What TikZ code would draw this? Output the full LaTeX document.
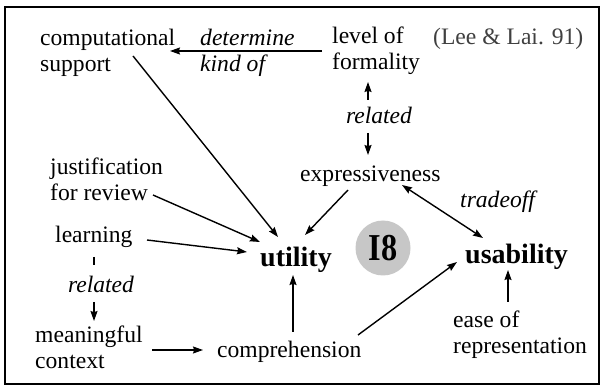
\documentclass[tikz,border=0pt]{standalone}
\usepackage{fontspec}
\setmainfont{Liberation Serif}
\usetikzlibrary{arrows.meta}
\tikzset{
  txt/.style={font=\fontsize{23.6}{26}\selectfont, inner sep=0pt, anchor=base west, align=left},
  rel/.style={txt, font=\fontsize{23.6}{26}\selectfont\itshape},
  key/.style={txt, font=\fontsize{28}{30}\selectfont\bfseries},
  tip/.style={Stealth[length=10pt,width=7pt,inset=1.2pt]},
  arr/.style={-{Stealth[length=10pt,width=7pt,inset=1.2pt]}, line width=1.4pt},
  twoway/.style={{Stealth[length=10pt,width=7pt,inset=1.2pt]}-{Stealth[length=10pt,width=7pt,inset=1.2pt]}, line width=1.4pt},
  plain/.style={line width=1.4pt}
}
\begin{document}
\begin{tikzpicture}[x=1pt,y=-1pt]
\useasboundingbox (0,0) rectangle (603,390);
\fill[white] (0,0) rectangle (603,390);
\draw[line width=2pt] (5,7) rectangle (599,384);

% concepts (two-line nodes are placed by the baseline of their last line)
\node[txt] (cs) at (40,72) {computational\\support};
\node[rel] (det) at (200,72) {determine\\kind of};
\node[txt] (lf) at (332,70) {level of\\formality};
\node[txt, text=black!75] (lee) at (433,45) {(Lee \& Lai. 91)};
\node[rel, anchor=base] (rel1) at (379,124) {related};
\node[txt] (ex) at (300,182) {expressiveness};
\node[txt] (jr) at (50,201) {justification\\for review};
\node[txt] (le) at (55,243) {learning};
\node[rel, anchor=base] (rel2) at (101,293) {related};
\node[txt] (mc) at (35,369) {meaningful\\context};
\node[txt] (co) at (217,358) {comprehension};
\node[key] (ut) at (260,267) {utility};
\node[key] (us) at (465,264) {usability};
\node[rel] (tr) at (460,208) {tradeoff};
\node[txt] (ea) at (453,353) {ease of\\representation};

% issue badge
\node[circle, fill=black!22, minimum size=55pt, inner sep=0pt] (badge) at (383,248) {};
\node[inner sep=0pt, font=\fontsize{38}{38}\selectfont\bfseries, xscale=0.85] (i8) at (badge.center) {I8};

% connectors
\draw[arr] ([shift={(-10,-19)}]lf.base west) -- ([shift={(130,-21)}]cs.base west);
\draw[arr] ([shift={(93,-16)}]cs.base west) -- ([shift={(18,-30)}]ut.base west);
\draw[arr] ([shift={(103,-6)}]jr.base west) -- ([shift={(0,-25)}]ut.base west);
\draw[arr] ([shift={(92,-3)}]le.base west) -- ([shift={(-13,-15)}]ut.base west);
\draw[arr] ([shift={(48,8)}]ex.base west) -- ([shift={(45,-32)}]ut.base west);
\draw[twoway] ([shift={(102,3)}]ex.base west) -- ([shift={(18,-26)}]us.base west);
\draw[arr] ([shift={(76,-26)}]co.base west) -- ([shift={(33,8)}]ut.base west);
\draw[arr] ([shift={(141,-23)}]co.base west) -- ([shift={(-8,-2)}]us.base west);
\draw[arr] ([shift={(55,-51)}]ea.base west) -- ([shift={(43,6)}]us.base west);
\draw[arr] ([shift={(117,-19)}]mc.base west) -- ([shift={(-14,-8)}]co.base west);
\draw[arr] ([shift={(-11,-24)}]rel1.base) -- ([shift={(36,12)}]lf.base west);
\draw[arr] ([shift={(-11,9)}]rel1.base) -- ([shift={(68,-27)}]ex.base west);
\draw[plain] ([shift={(39,14)}]le.base west) -- ([shift={(-7,-28)}]rel2.base);
\draw[arr] ([shift={(-7,9)}]rel2.base) -- ([shift={(59,-48)}]mc.base west);
\end{tikzpicture}
\end{document}
